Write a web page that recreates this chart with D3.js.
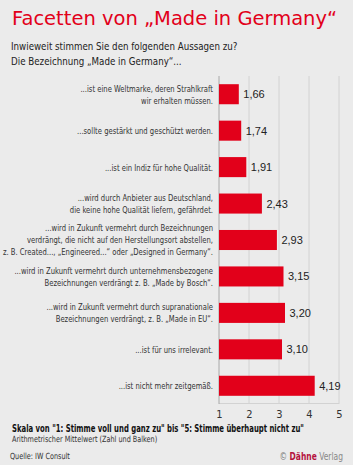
<!DOCTYPE html>
<html lang="de">
<head>
<meta charset="UTF-8">
<title>Facetten von Made in Germany</title>
<script src="https://cdn.jsdelivr.net/npm/d3@7"></script>
<style>
    body { margin: 0; background: #ebebeb; }
    svg { display: block; }
    .cond { font-family: "DejaVu Sans Condensed", "DejaVu Sans", sans-serif; font-stretch: condensed; }
</style>
</head>
<body>
<div id="chart"></div>
<script>
    const statements = [
        ["...ist eine Weltmarke, deren Strahlkraft", "wir erhalten müssen."],
        ["...sollte gestärkt und geschützt werden."],
        ["...ist ein Indiz für hohe Qualität."],
        ["...wird durch Anbieter aus Deutschland,", "die keine hohe Qualität liefern, gefährdet."],
        ["...wird in Zukunft vermehrt durch Bezeichnungen", "verdrängt, die nicht auf den Herstellungsort abstellen,", "z. B. Created..., „Engineered...“ oder „Designed in Germany“."],
        ["...wird in Zukunft vermehrt durch unternehmensbezogene", "Bezeichnungen verdrängt z. B. „Made by Bosch“."],
        ["...wird in Zukunft vermehrt durch supranationale", "Bezeichnungen verdrängt, z. B. „Made in EU“."],
        ["...ist für uns irrelevant."],
        ["...ist nicht mehr zeitgemäß."]
    ];
    const means = [1.66, 1.74, 1.91, 2.43, 2.93, 3.15, 3.20, 3.10, 4.19];
    const ticks = [1, 2, 3, 4, 5];

    const w = 353, h = 465;
    const red = "#e2001a";

    const svg = d3.select("#chart").append("svg")
        .attr("width", w)
        .attr("height", h);

    svg.append("rect").attr("width", w).attr("height", h).attr("fill", "#ebebeb");

    // squeezed text group, anchored at (ax, 0)
    function squeezed(ax, sx) {
        return svg.append("g").attr("transform", `translate(${ax},0) scale(${sx},1)`);
    }

    // title + question
    svg.append("text")
        .attr("x", 12).attr("y", 25)
        .attr("fill", red)
        .style("font-family", "'DejaVu Sans', sans-serif")
        .style("font-size", "19.5px")
        .text("Facetten von „Made in Germany“");

    const sub = squeezed(11, 0.88).append("text")
        .attr("class", "cond")
        .attr("fill", "#222")
        .style("font-size", "11px");
    sub.append("tspan").attr("x", 0).attr("y", 50).text("Inwieweit stimmen Sie den folgenden Aussagen zu?");
    sub.append("tspan").attr("x", 0).attr("y", 65).text("Die Bezeichnung „Made in Germany“...");

    const x = d3.scaleLinear().domain([1, 5]).range([219, 339]);
    const y = d3.scaleBand()
        .domain(d3.range(means.length))
        .range([76, 404])
        .paddingInner(0.45)
        .paddingOuter(0.225);

    // grid
    svg.append("g")
        .selectAll("line")
        .data(ticks.slice(1))
        .join("line")
        .attr("x1", d => x(d)).attr("x2", d => x(d))
        .attr("y1", 76).attr("y2", 404)
        .attr("stroke", "#d2d2d2");

    svg.append("line")
        .attr("x1", x(1)).attr("x2", x(5))
        .attr("y1", 403.5).attr("y2", 403.5)
        .attr("stroke", "#d2d2d2");

    svg.append("line")
        .attr("x1", x(1)).attr("x2", x(1))
        .attr("y1", 76).attr("y2", 404)
        .attr("stroke", "#a8a8a8");

    // bars
    svg.append("g")
        .selectAll("rect")
        .data(means)
        .join("rect")
        .attr("x", x(1))
        .attr("y", (d, i) => y(i))
        .attr("width", d => x(d) - x(1))
        .attr("height", y.bandwidth())
        .attr("fill", red);

    svg.append("g")
        .selectAll("text")
        .data(means)
        .join("text")
        .attr("x", d => x(d) + 4.5)
        .attr("y", (d, i) => y(i) + y.bandwidth() / 2 + 4)
        .attr("fill", "#222")
        .style("font-family", "'Liberation Sans', Arial, sans-serif")
        .style("font-size", "11px")
        .text(d => d.toFixed(2).replace(".", ","));

    // statement labels
    const lineH = 12;
    const labels = squeezed(213, 0.8)
        .attr("class", "cond")
        .style("font-size", "9.5px")
        .attr("fill", "#333")
        .attr("text-anchor", "end");

    labels.selectAll("text")
        .data(statements)
        .join("text")
        .each(function (lines, i) {
            const cy = y(i) + y.bandwidth() / 2;
            const top = cy - (lines.length - 1) * lineH / 2 + 3.5;
            d3.select(this).selectAll("tspan")
                .data(lines)
                .join("tspan")
                .attr("x", 0)
                .attr("y", (d, j) => top + j * lineH)
                .text(d => d);
        });

    // x axis
    const xAxis = d3.axisBottom(x).tickValues(ticks).tickFormat(d3.format("d")).tickSize(0).tickPadding(6);
    const ax = svg.append("g")
        .attr("transform", "translate(0,404)")
        .call(xAxis);
    ax.select(".domain").remove();
    ax.selectAll("text")
        .attr("fill", "#333")
        .style("font-family", "'DejaVu Sans Condensed', sans-serif")
        .style("font-size", "11px");

    // notes
    squeezed(12, 0.73).append("text")
        .attr("class", "cond")
        .attr("x", 0).attr("y", 432)
        .attr("fill", "#111")
        .style("font-size", "10.5px")
        .style("font-weight", "600")
        .text("Skala von \"1: Stimme voll und ganz zu\" bis \"5: Stimme überhaupt nicht zu\"");

    squeezed(12, 0.85).append("text")
        .attr("class", "cond")
        .attr("x", 0).attr("y", 442)
        .attr("fill", "#333")
        .style("font-size", "8.5px")
        .text("Arithmetrischer Mittelwert (Zahl und Balken)");

    squeezed(10, 0.85).append("text")
        .attr("class", "cond")
        .attr("x", 0).attr("y", 459)
        .attr("fill", "#333")
        .style("font-size", "8.5px")
        .text("Quelle: IW Consult");

    const logo = squeezed(343, 0.8).append("text")
        .attr("x", 0).attr("y", 460)
        .attr("text-anchor", "end")
        .style("font-family", "'DejaVu Sans Condensed', sans-serif")
        .style("font-size", "10.5px");
    logo.append("tspan").attr("fill", "#777").text("© ");
    logo.append("tspan").attr("fill", "#b5123e").style("font-weight", "bold").text("Dähne");
    logo.append("tspan").attr("fill", "#888").text(" Verlag");
</script>
</body>
</html>
